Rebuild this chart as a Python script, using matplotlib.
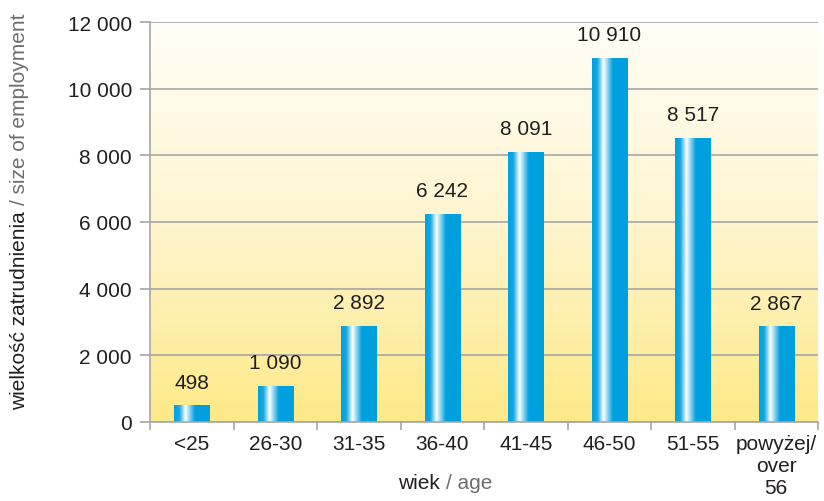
import numpy as np
import matplotlib
matplotlib.use("Agg")
import matplotlib.pyplot as plt
from matplotlib.colors import LinearSegmentedColormap
from matplotlib.ticker import FuncFormatter, MultipleLocator, FixedLocator

plt.rcParams['font.family'] = ['Liberation Sans', 'DejaVu Sans']

categories = ["<25", "26-30", "31-35", "36-40", "41-45", "46-50", "51-55", "powyżej/\nover\n56"]
values = [498, 1090, 2892, 6242, 8091, 10910, 8517, 2867]

TEXT = "#231f20"
GREY_TEXT = "#6d6e71"
GRID = "#a6a6a6"
FS = 15

W, H = 824, 502
fig = plt.figure(figsize=(W / 100, H / 100), dpi=100)
ax = fig.add_axes([150 / W, (H - 423) / H, (818 - 150) / W, 400 / H])

x = np.arange(len(categories))
ax.set_xlim(-0.5, len(categories) - 0.5)
ax.set_ylim(0, 12000)

# background: white at the top fading to warm yellow at the bottom
bg = LinearSegmentedColormap.from_list("bg", ["#fde987", "#fff5cf", "#fffdf7"])
grad = np.linspace(0, 1, 256).reshape(-1, 1)
ax.imshow(grad, cmap=bg, origin="lower", aspect="auto",
          extent=[-0.5, len(categories) - 0.5, 0, 12000], zorder=0)

ax.yaxis.set_major_locator(MultipleLocator(2000))
ax.grid(axis="y", color=GRID, linewidth=1.2, zorder=1)
ax.set_axisbelow(False)

# cylinder-like bars
bar_cmap = LinearSegmentedColormap.from_list(
    "bar", [(0.0, "#00a0df"), (0.15, "#15a8e2"), (0.32, "#ffffff"),
            (0.58, "#00a0df"), (1.0, "#00a0df")])
hgrad = np.linspace(0, 1, 256).reshape(1, -1)
width = 0.42
bars = ax.bar(x, values, width=width, color="none", edgecolor="none", zorder=3)
for b, v in zip(bars, values):
    im = ax.imshow(hgrad, cmap=bar_cmap, aspect="auto",
                   extent=[b.get_x(), b.get_x() + width, -40, v], zorder=3)
    im.set_clip_path(b)
    b.set_clip_on(False)

fmt = lambda v: f"{int(v):,}".replace(",", " ")
for xi, v in zip(x, values):
    ax.annotate(fmt(v), (xi, v), xytext=(0, 10), textcoords="offset points",
                ha="center", va="bottom", fontsize=FS, color=TEXT)

ax.yaxis.set_major_formatter(FuncFormatter(lambda v, p: fmt(v)))
ax.tick_params(axis="y", length=7, width=1.2, color=GRID, labelsize=FS,
               labelcolor=TEXT, pad=6)
ax.set_xticks(x)
ax.set_xticklabels(categories, fontsize=FS, color=TEXT, linespacing=1.2)
ax.xaxis.set_minor_locator(FixedLocator(np.arange(-0.5, len(categories), 1.0)))
ax.tick_params(axis="x", which="major", length=0, pad=9)
ax.tick_params(axis="x", which="minor", length=6, width=1.2, color=GRID)

for s in ["top", "right"]:
    ax.spines[s].set_visible(False)
for s in ["left", "bottom"]:
    ax.spines[s].set_color(GRID)
    ax.spines[s].set_linewidth(1.2)
ax.spines["bottom"].set_zorder(4)

# two-tone axis titles
fig.canvas.draw()
r = fig.canvas.get_renderer()


def two_tone(x_px, y_px, parts, rotation=0):
    texts = []
    for s, c in parts:
        t = fig.text(0, 0, s, color=c, fontsize=FS, rotation=rotation,
                     ha="left", va="center" if rotation == 0 else "bottom",
                     transform=None)
        texts.append(t)
    sizes = []
    for t in texts:
        bb = t.get_window_extent(r)
        sizes.append(bb.width if rotation == 0 else bb.height)
    total = sum(sizes)
    pos = -total / 2
    for t, sz in zip(texts, sizes):
        if rotation == 0:
            t.set_position((x_px + pos, y_px))
            t.set_va("center")
        else:
            t.set_position((x_px, y_px + pos))
            t.set_ha("center")
        pos += sz


two_tone(445, H - 484, [("wiek ", TEXT), ("/ age", GREY_TEXT)])
two_tone(20, H - 212, [("wielkość zatrudnienia ", TEXT), ("/ size of employment", GREY_TEXT)], rotation=90)

fig.savefig("out.png", dpi=100, facecolor="white")
